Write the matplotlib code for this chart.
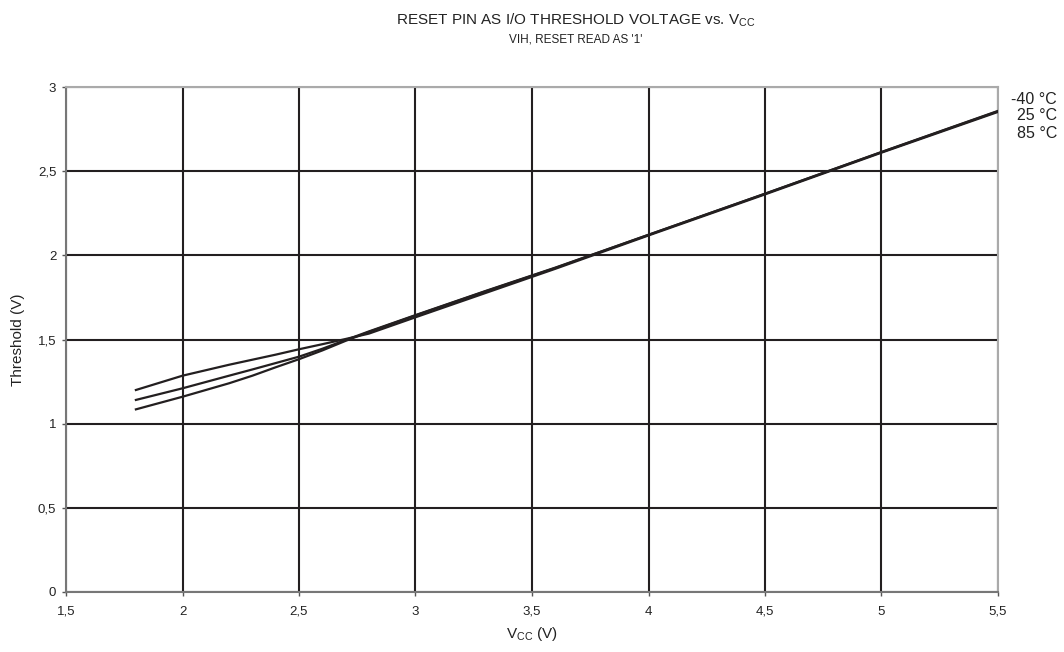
import matplotlib
matplotlib.use("Agg")
import matplotlib.pyplot as plt
from matplotlib.ticker import FuncFormatter, MultipleLocator

plt.rcParams['font.family'] = ['Liberation Sans', 'DejaVu Sans']

# Data
vcc = [1.8, 2.0, 2.2, 2.3, 2.4, 2.5, 2.6, 2.7, 2.8, 3.0, 3.3, 3.6, 4.0, 4.5, 5.0, 5.5]
thr_m40 = [1.200, 1.285, 1.350, 1.380, 1.410, 1.442, 1.472, 1.503, 1.535, 1.632, 1.776, 1.920, 2.118, 2.362, 2.610, 2.852]
thr_25 = [1.141, 1.210, 1.285, 1.322, 1.360, 1.398, 1.445, 1.497, 1.548, 1.645, 1.788, 1.927, 2.122, 2.366, 2.613, 2.856]
thr_85 = [1.085, 1.160, 1.240, 1.285, 1.335, 1.383, 1.435, 1.492, 1.545, 1.643, 1.786, 1.925, 2.122, 2.366, 2.614, 2.858]
labels = ['-40 °C', '25 °C', '85 °C']

dark = '#231f20'
txt = '#222222'
fig = plt.figure(figsize=(10.64, 6.52), dpi=100)
ax = fig.add_axes([66 / 1064, 1 - 592 / 652, (998 - 66) / 1064, (592 - 87) / 652])

for ys in (thr_m40, thr_25, thr_85):
    ax.plot(vcc, ys, color=dark, lw=1.6, zorder=3)

ax.set_xlim(1.5, 5.5)
ax.set_ylim(0, 3)
ax.xaxis.set_major_locator(MultipleLocator(0.5))
ax.yaxis.set_major_locator(MultipleLocator(0.5))
fmt = FuncFormatter(lambda v, p: ('%g' % v).replace('.', ','))
ax.xaxis.set_major_formatter(fmt)
ax.yaxis.set_major_formatter(fmt)
ax.grid(True, color=dark, lw=1.5)
ax.tick_params(direction='out', length=3, width=1, color='#555555',
               labelsize=9.5, labelcolor=txt)
ax.tick_params(axis='x', pad=7)
ax.tick_params(axis='y', pad=4)
for name, sp in ax.spines.items():
    sp.set_color('#777777')
    sp.set_linewidth(1.5)
ax.spines['top'].set_color('#aaaaaa')
ax.spines['right'].set_color('#aaaaaa')

ax.set_ylabel('Threshold (V)', fontsize=11, color=txt, labelpad=9)
ax.set_xlabel('V$_{\\mathregular{CC}}$ (V)', fontsize=11, color=txt, labelpad=5)

fig.text(576 / 1064, 1 - 20 / 652, 'RESET PIN AS I/O THRESHOLD VOLTAGE vs. V$_{\\mathregular{CC}}$',
         ha='center', va='center', fontsize=11, color=txt)
fig.text(576 / 1064, 1 - 40 / 652, "VIH, RESET READ AS '1'",
         ha='center', va='center', fontsize=8.5, color=txt)

for lab, ypx in zip(labels, [100, 116, 133]):
    fig.text(1057 / 1064, 1 - ypx / 652, lab, ha='right', va='center',
             fontsize=11.5, color=txt)

fig.savefig('out.png', dpi=100)
